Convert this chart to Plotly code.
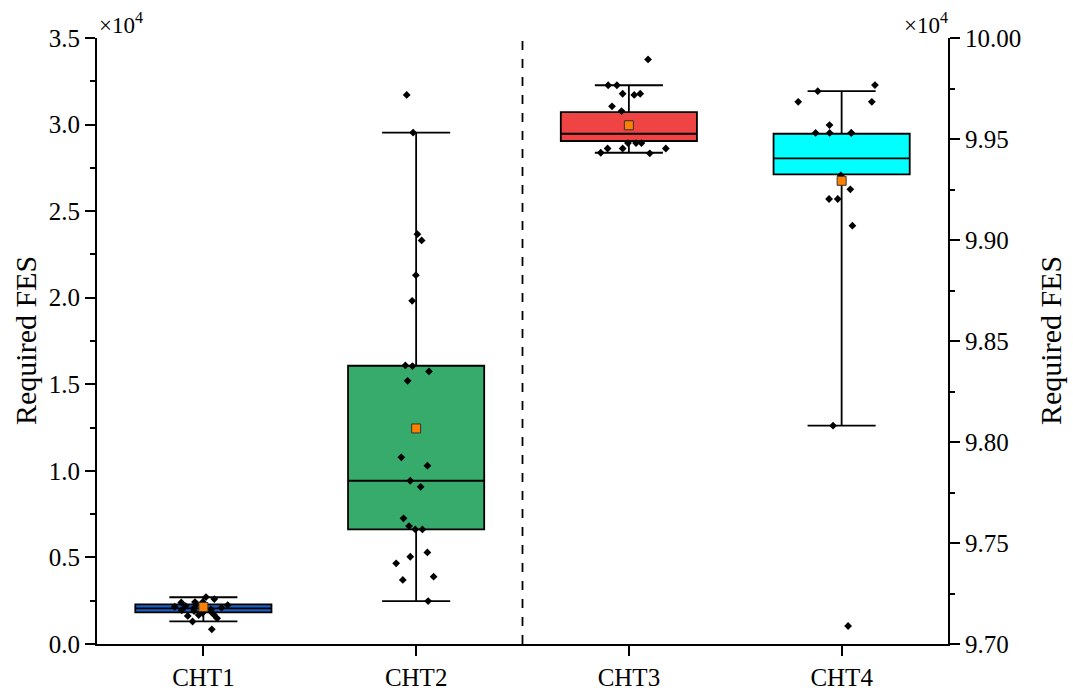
import plotly.graph_objects as go

categories = ["CHT1", "CHT2", "CHT3", "CHT4"]

# raw sample values (required FES)
cht1_vals = [2710, 2596, 2423, 2430, 2400, 2300, 2250, 2190, 2150, 2100, 2060, 2000,
             1950, 1904, 1850, 1789, 1700, 1673, 1620, 1482, 1300, 848]
cht2_vals = [31710, 29540, 23670, 23310, 21300, 19820, 16090, 16050, 15740, 15200,
             10780, 10300, 9430, 9080, 7260, 6810, 6620, 6620, 5290, 5040, 4660,
             3890, 3700, 2480]
cht3_vals = [99894, 99766, 99766, 99724, 99724, 99718, 99662, 99638, 99480, 99480,
             99480, 99453, 99453, 99453, 99432, 99429]
cht4_vals = [99767, 99737, 99684, 99684, 99569, 99530, 99530, 99530, 99530, 99320,
             99251, 99203, 99203, 99071, 98081, 97089]

# box statistics
q1_vals = [1830, 6620, 99490, 99325]
median_vals = [2060, 9430, 99526, 99404]
q3_vals = [2290, 16070, 99633, 99526]
lower_vals = [1310, 2480, 99432, 98081]
upper_vals = [2700, 29540, 99766, 99737]
mean_vals = [2135, 12450, 99568, 99293]

box_colors = ["#1c5fc4", "#37ab6b", "#f04343", "#00ffff"]
samples = [cht1_vals, cht2_vals, cht3_vals, cht4_vals]
axes_of = ["y", "y", "y2", "y2"]
jitters = [0.45, 0.35, 0.7, 0.7]

SCALE = 1e4
FONT = "Liberation Serif"

fig = go.Figure()

for i, cat in enumerate(categories):
    fig.add_trace(go.Box(
        x=[cat],
        q1=[q1_vals[i] / SCALE],
        median=[median_vals[i] / SCALE],
        q3=[q3_vals[i] / SCALE],
        lowerfence=[lower_vals[i] / SCALE],
        upperfence=[upper_vals[i] / SCALE],
        fillcolor=box_colors[i],
        line=dict(color="black", width=1.8),
        width=0.64,
        whiskerwidth=0.5,
        boxpoints=False,
        yaxis=axes_of[i],
        showlegend=False,
        hoverinfo="skip",
    ))

for i, cat in enumerate(categories):
    vals = [v / SCALE for v in samples[i]]
    fig.add_trace(go.Box(
        x=[cat] * len(vals),
        y=vals,
        boxpoints="all",
        jitter=jitters[i],
        pointpos=0,
        width=0.64,
        fillcolor="rgba(0,0,0,0)",
        line=dict(color="rgba(0,0,0,0)", width=0),
        marker=dict(symbol="diamond", size=6, color="black"),
        yaxis=axes_of[i],
        showlegend=False,
    ))

for i, cat in enumerate(categories):
    fig.add_trace(go.Scatter(
        x=[cat],
        y=[mean_vals[i] / SCALE],
        mode="markers",
        marker=dict(symbol="square", size=9, color="#ff8000",
                    line=dict(color="#333333", width=1)),
        yaxis=axes_of[i],
        showlegend=False,
    ))

axis_font = dict(family=FONT, size=25, color="black")
title_font = dict(family=FONT, size=30, color="black")

fig.update_layout(
    width=1073,
    height=695,
    margin=dict(l=97, r=125, t=38, b=51),
    paper_bgcolor="white",
    plot_bgcolor="white",
    showlegend=False,
    boxmode="overlay",
    font=dict(family=FONT, color="black"),
    xaxis=dict(
        type="category",
        categoryorder="array",
        categoryarray=categories,
        range=[-0.5, 3.5],
        automargin=False,
        showline=True, linecolor="black", linewidth=2,
        ticks="outside", ticklen=10, tickwidth=2, tickcolor="black",
        tickfont=axis_font,
        showgrid=False, zeroline=False,
    ),
    yaxis=dict(
        range=[0, 3.5],
        dtick=0.5, tick0=0,
        tickformat=".1f",
        automargin=False,
        showline=True, linecolor="black", linewidth=2,
        ticks="outside", ticklen=10, tickwidth=2, tickcolor="black",
        minor=dict(ticks="outside", ticklen=5, tickwidth=2, tickcolor="black", dtick=0.25),
        tickfont=axis_font,
        showgrid=False, zeroline=False,
    ),
    yaxis2=dict(
        range=[9.70, 10.00],
        dtick=0.05, tick0=9.70,
        tickformat=".2f",
        overlaying="y",
        side="right",
        automargin=False,
        showline=True, linecolor="black", linewidth=2,
        ticks="outside", ticklen=10, tickwidth=2, tickcolor="black",
        minor=dict(ticks="outside", ticklen=5, tickwidth=2, tickcolor="black", dtick=0.025),
        tickfont=axis_font,
        showgrid=False, zeroline=False,
    ),
    shapes=[
        dict(type="line", xref="x", yref="paper", x0=1.5, x1=1.5, y0=0, y1=1,
             line=dict(color="black", width=1.8, dash="dash")),
    ],
    annotations=[
        dict(text="×10<sup>4</sup>", xref="paper", yref="paper", x=0.0, y=1.0,
             xanchor="left", yanchor="bottom", showarrow=False, xshift=0, yshift=-2,
             font=dict(family=FONT, size=23, color="black")),
        dict(text="×10<sup>4</sup>", xref="paper", yref="paper", x=1.0, y=1.0,
             xanchor="right", yanchor="bottom", showarrow=False, xshift=2, yshift=-2,
             font=dict(family=FONT, size=23, color="black")),
        dict(text="Required FES", xref="paper", yref="paper", x=0.0, y=0.5,
             xanchor="center", yanchor="middle", textangle=-90, showarrow=False,
             xshift=-72, font=title_font),
        dict(text="Required FES", xref="paper", yref="paper", x=1.0, y=0.5,
             xanchor="center", yanchor="middle", textangle=-90, showarrow=False,
             xshift=102, font=title_font),
    ],
)

fig.write_html("out.html",
               config={"displayModeBar": False},
               post_script="document.body.style.margin='0';document.body.style.overflow='hidden';")
